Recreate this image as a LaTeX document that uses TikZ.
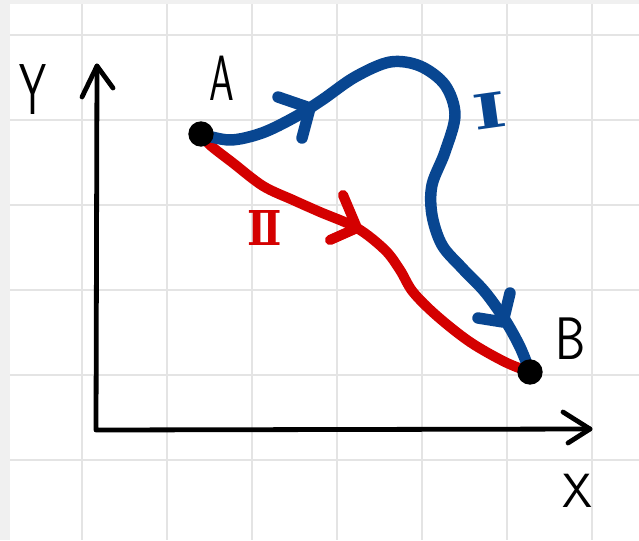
\documentclass[tikz,border=0pt]{standalone}
\usepackage{fontspec}
\usepackage{graphicx}
\newfontfamily\numfont{DejaVu Serif}
\definecolor{pathblue}{RGB}{8,70,145}
\definecolor{pathred}{RGB}{212,0,0}
\definecolor{gridgray}{RGB}{228,228,228}
\definecolor{stripgray}{RGB}{240,240,240}
\begin{document}
\begin{tikzpicture}[x=0.75pt,y=-0.75pt,
  gridline/.style={draw=gridgray,line width=2.2pt},
  axis/.style={draw=black,line width=3.6pt,line cap=round,line join=round},
  bluepath/.style={draw=pathblue,line width=8.6pt,line cap=round,line join=round},
  redpath/.style={draw=pathred,line width=7.6pt,line cap=round,line join=round},
  dot/.style={circle,fill=black,inner sep=0pt,minimum size=19pt},
  lbl/.style={inner sep=0pt,font=\sffamily},
  numlbl/.style={inner sep=0pt,font=\numfont}]
\useasboundingbox (0,0) rectangle (639,540);
\fill[white] (0,0) rectangle (639,540);
\fill[stripgray] (0,0) rectangle (639,4);
\fill[stripgray] (0,0) rectangle (10,540);
\foreach \x in {82,167,252,337,422,507,592} \draw[gridline] (\x,4) -- (\x,540);
\foreach \y in {35,120,205,290,375,460} \draw[gridline] (10,\y) -- (639,\y);
% axes
\coordinate (O) at (96,430);
\coordinate (yend) at (97,66);
\coordinate (xend) at (590,429);
\draw[axis] (yend) -- (O) -- (xend);
\draw[axis] (yend) ++(-15,31) -- (yend) -- ++(16,22);
\draw[axis] (xend) ++(-27,-17) -- (xend) -- ++(-22,14);
% end points
\coordinate (a) at (201,134);
\coordinate (b) at (530,372);
% path II (red)
\draw[redpath] plot[smooth,tension=0.55] coordinates {(a) (210,145) (233,163) (263,186) (293,200) (320,212) (357,228) (385,250) (400,270) (413,292) (437,316) (470,342) (505,362) (b)};
\draw[redpath] (343,195) -- (357,228) -- (330,240);
% path I (blue)
\draw[bluepath] plot[smooth,tension=0.55] coordinates {(a) (230,140) (262,133) (295,117) (322,100) (355,77) (390,62) (420,66) (445,85) (455,115) (445,152) (432,185) (432,215) (442,245) (462,268) (485,292) (505,320) (520,347) (b)};
\draw[bluepath] (278,97) -- (310,108) -- (302,138);
\draw[bluepath] (478,318) -- (503,322) -- (510,293);
% dots
\node[dot] (A) at (a) {};
\node[dot] (B) at (b) {};
% labels
\node[lbl,font=\sffamily\fontsize{48}{48}\selectfont] (lA) at (222,78) {\scalebox{0.62}[1]{A}};
\node[lbl,font=\sffamily\fontsize{45}{45}\selectfont] (lB) at (571,339) {\scalebox{0.8}[1]{B}};
\node[lbl,font=\sffamily\fontsize{54}{54}\selectfont] (lY) at (33,90) {\scalebox{0.6}[1]{Y}};
\node[lbl,font=\sffamily\fontsize{36}{36}\selectfont] (lX) at (577,491) {X};
\node[numlbl,text=pathblue,font=\numfont\bfseries\fontsize{36}{36}\selectfont,rotate=8] (n1) at (490,111) {\scalebox{1.5}[1]{Ⅰ}};
\node[numlbl,text=pathred,font=\numfont\bfseries\fontsize{36}{36}\selectfont] (n2) at (265,228) {\scalebox{0.85}[1]{Ⅱ}};
\end{tikzpicture}
\end{document}
